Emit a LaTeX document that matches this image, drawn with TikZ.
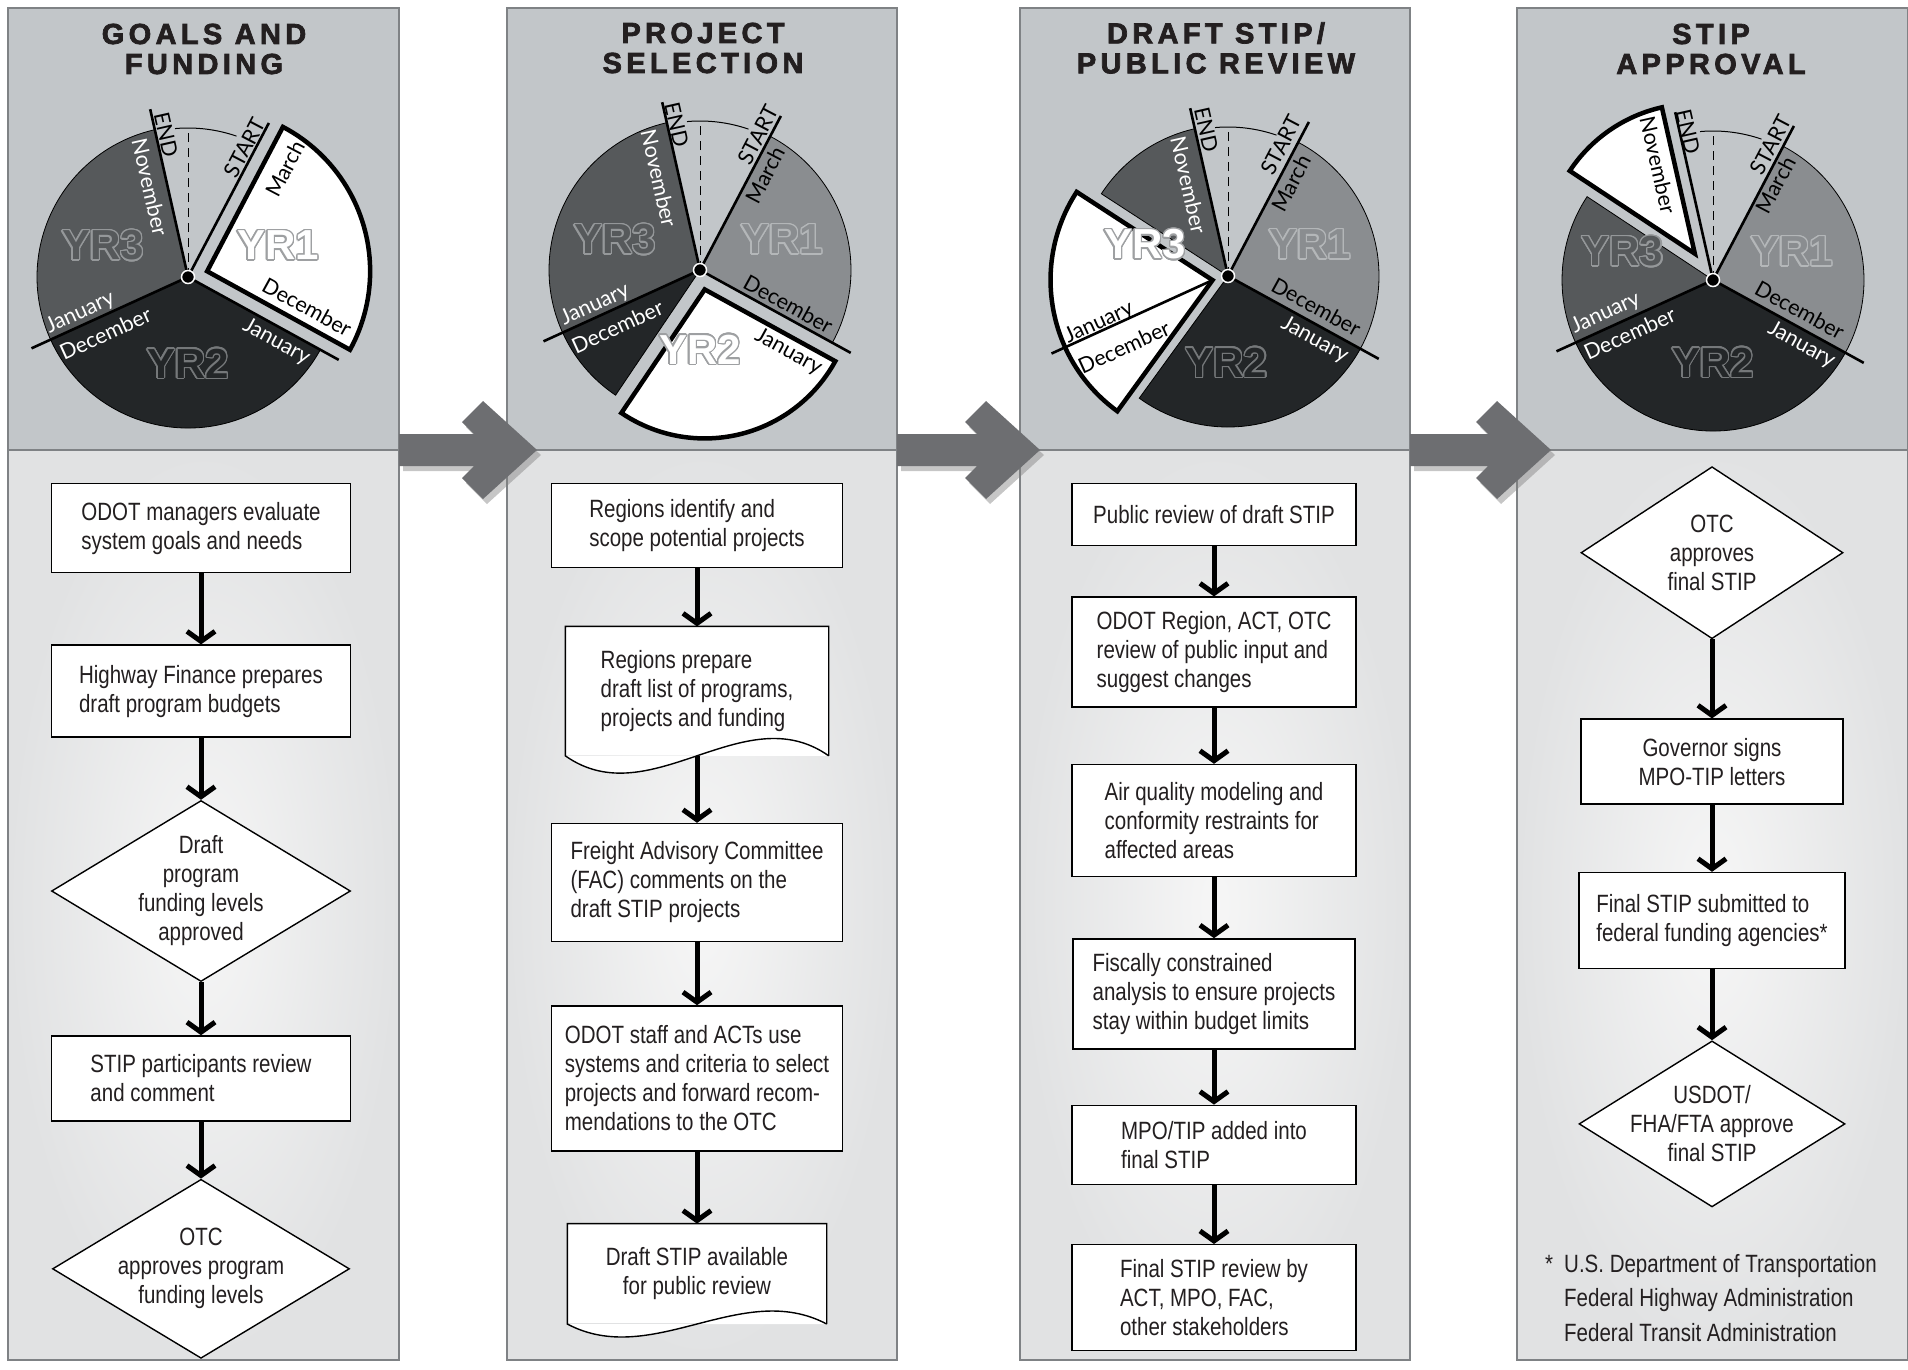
\documentclass[tikz,border=0pt]{standalone}
\usepackage{fontspec}
\usepackage{contour}
\usetikzlibrary{positioning,shapes.geometric,arrows.meta,shadows}
\setmainfont{Liberation Sans}
\newfontfamily\boxfont{Liberation Sans}[FakeStretch=0.82]
\newfontfamily\headfont{Liberation Sans}[LetterSpace=15, BoldFeatures={FakeBold=2.5}]
\newfontfamily\monthfont{Lato}
\newfontfamily\yrfont{Liberation Sans}
\definecolor{hdrgray}{HTML}{C2C6C9}
\definecolor{framegray}{HTML}{7F8285}
\definecolor{lowgray}{HTML}{E1E2E3}
\definecolor{lowlight}{HTML}{F6F6F6}
\definecolor{yrone}{HTML}{8A8D90}
\definecolor{yrtwo}{HTML}{232628}
\definecolor{yrthree}{HTML}{56595B}
\definecolor{chevgray}{HTML}{6D6E71}
\definecolor{inkblack}{HTML}{231F20}
\definecolor{outone}{HTML}{B4B7B9}
\definecolor{outtwo}{HTML}{75787A}
\definecolor{outthree}{HTML}{95989A}
\definecolor{outwhite}{HTML}{9EA0A2}
\contourlength{1.3pt}
\contournumber{24}

\begin{document}
\begin{tikzpicture}
[
x=1pt, y=1pt,
box-a/.style={rectangle, draw, line width=1.4, fill=white, align=left, inner sep=6pt, text=inkblack, font=\boxfont\fontsize{25}{29}\selectfont},
doc-a/.style={box-a, draw=none},
dia-a/.style={diamond, draw, line width=1.4, fill=white, aspect=1.65, inner sep=-10pt, align=center, text=inkblack, font=\boxfont\fontsize{25}{29}\selectfont},
arrow-a/.style={line width=5, -{Straight Barb[length=10pt, width=28pt]}},
title-a/.style={align=center, text=inkblack, font=\headfont\bfseries\fontsize{29}{30}\selectfont},
month-a/.style={inner sep=0pt, font=\monthfont\fontsize{21.5}{21.5}\selectfont},
yr-a/.style={inner sep=0pt, font=\yrfont\bfseries\fontsize{42}{42}\selectfont},
frame-a/.style={draw=framegray, line width=2},
cut-a/.style={line width=2.6},
sector-a/.style={draw=black, line width=0.8},
pulled-a/.style={draw=black, fill=white, line width=4.5, line join=miter},
chevron-a/.style={fill=chevgray, drop shadow={shadow xshift=4pt, shadow yshift=-5pt, opacity=0.45}}
]
\useasboundingbox (0,0) rectangle (1908,-1369);

% panels
\fill  [hdrgray] (8,-8) rectangle (399,-450);
\shade [inner color=lowlight, outer color=lowgray] (8,-450) rectangle (399,-1360);
\draw  [frame-a] (8,-8) rectangle (399,-1360) (8,-450) -- (399,-450);
\fill  [hdrgray] (507,-8) rectangle (897,-450);
\shade [inner color=lowlight, outer color=lowgray] (507,-450) rectangle (897,-1360);
\draw  [frame-a] (507,-8) rectangle (897,-1360) (507,-450) -- (897,-450);
\fill  [hdrgray] (1020,-8) rectangle (1410,-450);
\shade [inner color=lowlight, outer color=lowgray] (1020,-450) rectangle (1410,-1360);
\draw  [frame-a] (1020,-8) rectangle (1410,-1360) (1020,-450) -- (1410,-450);
\fill  [hdrgray] (1517,-8) rectangle (1908,-450);
\shade [inner color=lowlight, outer color=lowgray] (1517,-450) rectangle (1908,-1360);
\draw  [frame-a] (1517,-8) rectangle (1908,-1360) (1517,-450) -- (1908,-450);

% big arrows between the stages
\fill [chevron-a] (399,-434) -- (474,-434) -- (462,-422) -- (483,-401) -- (537,-450) -- (483,-499) -- (462,-478) -- (474,-466) -- (399,-466) -- cycle;
\fill [chevron-a] (897,-434) -- (977,-434) -- (965,-422) -- (986,-401) -- (1040,-450) -- (986,-499) -- (965,-478) -- (977,-466) -- (897,-466) -- cycle;
\fill [chevron-a] (1410,-434) -- (1488,-434) -- (1476,-422) -- (1497,-401) -- (1551,-450) -- (1497,-499) -- (1476,-478) -- (1488,-466) -- (1410,-466) -- cycle;

% titles
\node (title-1) [title-a] at (204,-49)  {GOALS AND\\FUNDING};
\node (title-2) [title-a] at (703,-48)  {PROJECT\\SELECTION};
\node (title-3) [title-a] at (1216,-48) {DRAFT STIP/\\PUBLIC REVIEW};
\node (title-4) [title-a] at (1711,-49) {STIP\\APPROVAL};

% wheel 1
\begin{scope}[shift={(188,-277)}]
\filldraw [sector-a, fill=yrthree] (0,0) -- (102.7:151) arc [start angle=102.7, end angle=204.5, radius=151] -- cycle;
\filldraw [sector-a, fill=yrtwo]   (0,0) -- (204.5:151) arc [start angle=204.5, end angle=331.2, radius=151] -- cycle;
\begin{scope}[shift={(16.75:20)}]
\filldraw [pulled-a] (0,0) -- (-28.8:163) arc [start angle=-28.8, end angle=62.3, radius=163] -- cycle;
\end{scope}
\node (p1-yr1) [yr-a, text=white]   at (90,31)  {\contour{outwhite}{YR1}};
\node (p1-yr2) [yr-a, text=yrtwo]   at (0,-87)  {\contour{outtwo}{YR2}};
\node (p1-yr3) [yr-a, text=yrthree] at (-85,31) {\contour{outthree}{YR3}};
\draw [cut-a] (0,0) -- (102.7:172) (0,0) -- (62.3:174) (0,0) -- (-28.8:172) (0,0) -- (204.5:172);
\draw [line width=1, dash pattern=on 9pt off 6pt] (0,0) -- (90:149);
\draw [line width=1] (95:149) arc [start angle=95, end angle=71, radius=149];
\node (p1-end)   [month-a, rotate=-77.3]              at (-22,142)      {END};
\node (p1-start) [month-a, rotate=62.3]               at (56.7,129.3)   {START};
\node (p1-nov)   [month-a, rotate=-77.3, text=white]  at (-38,90)       {November};
\node (p1-mar)   [month-a, rotate=62.3]               at (97.3,108.3)   {March};
\node (p1-deca)  [month-a, rotate=-28.8]              at (119,-30)      {December};
\node (p1-jana)  [month-a, rotate=-28.8, text=white]  at (88.3,-64.7)   {January};
\node (p1-janb)  [month-a, rotate=24.5, text=white]   at (-107.7,-35.7) {January};
\node (p1-decb)  [month-a, rotate=24.5, text=white]   at (-82.7,-56.3)  {December};
\filldraw [fill=black, draw=white, line width=1.5] (0,0) circle (6.5);
\end{scope}

% wheel 2
\begin{scope}[shift={(700,-270)}]
\filldraw [sector-a, fill=yrthree] (0,0) -- (102.7:151) arc [start angle=102.7, end angle=204.5, radius=151] -- cycle;
\filldraw [sector-a, fill=yrone]   (0,0) -- (-28.8:151) arc [start angle=-28.8, end angle=62.3, radius=151] -- cycle;
\filldraw [sector-a, fill=yrtwo]   (0,0) -- (204.5:151) arc [start angle=204.5, end angle=236, radius=151] -- cycle;
\begin{scope}[shift={(283.6:20)}]
\filldraw [pulled-a] (0,0) -- (236:149) arc [start angle=236, end angle=331.2, radius=149] -- cycle;
\end{scope}
\node (p2-yr1) [yr-a, text=yrone]   at (82,30)  {\contour{outone}{YR1}};
\node (p2-yr2) [yr-a, text=white]   at (0,-80)  {\contour{outwhite}{YR2}};
\node (p2-yr3) [yr-a, text=yrthree] at (-85,30) {\contour{outthree}{YR3}};
\draw [cut-a] (0,0) -- (102.7:172) (0,0) -- (62.3:174) (0,0) -- (-28.8:172) (0,0) -- (204.5:172);
\draw [line width=1, dash pattern=on 9pt off 6pt] (0,0) -- (90:149);
\draw [line width=1] (95:149) arc [start angle=95, end angle=71, radius=149];
\node (p2-end)   [month-a, rotate=-77.3]              at (-23.3,145)    {END};
\node (p2-start) [month-a, rotate=62.3]               at (58.3,135)     {START};
\node (p2-nov)   [month-a, rotate=-77.3, text=white]  at (-41,91.5)     {November};
\node (p2-mar)   [month-a, rotate=62.3]               at (65,95)        {March};
\node (p2-deca)  [month-a, rotate=-28.8]              at (88.3,-34)     {December};
\node (p2-jana)  [month-a, rotate=-28.8]              at (88.3,-81.7)   {January};
\node (p2-janb)  [month-a, rotate=24.5, text=white]   at (-105,-35)     {January};
\node (p2-decb)  [month-a, rotate=24.5, text=white]   at (-82.7,-56.7)  {December};
\filldraw [fill=black, draw=white, line width=1.5] (0,0) circle (6.5);
\end{scope}

% wheel 3
\begin{scope}[shift={(1228,-276)}]
\filldraw [sector-a, fill=yrthree] (0,0) -- (102.7:151) arc [start angle=102.7, end angle=147, radius=151] -- cycle;
\filldraw [sector-a, fill=yrone]   (0,0) -- (-28.8:151) arc [start angle=-28.8, end angle=62.3, radius=151] -- cycle;
\filldraw [sector-a, fill=yrtwo]   (0,0) -- (234:151) arc [start angle=234, end angle=331.2, radius=151] -- cycle;
\begin{scope}[shift={(195:16)}]
\filldraw [pulled-a] (0,0) -- (147:162) arc [start angle=147, end angle=234, radius=162] -- cycle;
\draw [cut-a] (0,0) -- (204.5:177);
\end{scope}
\node (p3-yr1) [yr-a, text=yrone]   at (82,31)   {\contour{outone}{YR1}};
\node (p3-yr2) [yr-a, text=yrtwo]   at (-1.7,-87) {\contour{outtwo}{YR2}};
\node (p3-yr3) [yr-a, text=white]   at (-83,31)  {\contour{outwhite}{YR3}};
\draw [cut-a] (0,0) -- (102.7:172) (0,0) -- (62.3:174) (0,0) -- (-28.8:172);
\draw [line width=1, dash pattern=on 9pt off 6pt] (0,0) -- (90:149);
\draw [line width=1] (95:149) arc [start angle=95, end angle=71, radius=149];
\node (p3-end)   [month-a, rotate=-77.3]              at (-21.7,146)    {END};
\node (p3-start) [month-a, rotate=62.3]               at (53.3,131)     {START};
\node (p3-nov)   [month-a, rotate=-77.3, text=white]  at (-39.3,91)     {November};
\node (p3-mar)   [month-a, rotate=62.3]               at (63.3,92.7)    {March};
\node (p3-deca)  [month-a, rotate=-28.8]              at (88.3,-30.7)   {December};
\node (p3-jana)  [month-a, rotate=-28.8, text=white]  at (86.7,-64)     {January};
\node (p3-janb)  [month-a, rotate=24.5]               at (-129,-47)     {January};
\node (p3-decb)  [month-a, rotate=24.5]               at (-104,-71)     {December};
\filldraw [fill=black, draw=white, line width=1.5] (0,0) circle (6.5);
\end{scope}

% wheel 4
\begin{scope}[shift={(1713,-280)}]
\filldraw [sector-a, fill=yrthree] (0,0) -- (146.5:151) arc [start angle=146.5, end angle=204.5, radius=151] -- cycle;
\filldraw [sector-a, fill=yrone]   (0,0) -- (-28.8:151) arc [start angle=-28.8, end angle=62.3, radius=151] -- cycle;
\filldraw [sector-a, fill=yrtwo]   (0,0) -- (204.5:151) arc [start angle=204.5, end angle=331.2, radius=151] -- cycle;
\begin{scope}[shift={(124.6:32)}]
\filldraw [pulled-a] (0,0) -- (102.7:150) arc [start angle=102.7, end angle=146.5, radius=150] -- cycle;
\end{scope}
\node (p4-yr1) [yr-a, text=yrone]   at (79,28)    {\contour{outone}{YR1}};
\node (p4-yr2) [yr-a, text=yrtwo]   at (0,-83)    {\contour{outtwo}{YR2}};
\node (p4-yr3) [yr-a, text=yrthree] at (-90.7,28) {\contour{outthree}{YR3}};
\draw [cut-a] (0,0) -- (102.7:172) (0,0) -- (62.3:174) (0,0) -- (-28.8:172) (0,0) -- (204.5:172);
\draw [line width=1, dash pattern=on 9pt off 6pt] (0,0) -- (90:149);
\draw [line width=1] (95:149) arc [start angle=95, end angle=71, radius=149];
\node (p4-end)   [month-a, rotate=-77.3]              at (-25,148)      {END};
\node (p4-start) [month-a, rotate=62.3]               at (57.7,135)     {START};
\node (p4-nov)   [month-a, rotate=-77.3]              at (-55,115)      {November};
\node (p4-mar)   [month-a, rotate=62.3]               at (62.7,95)      {March};
\node (p4-deca)  [month-a, rotate=-28.8]              at (86.7,-30)     {December};
\node (p4-jana)  [month-a, rotate=-28.8, text=white]  at (88.3,-65)     {January};
\node (p4-janb)  [month-a, rotate=24.5, text=white]   at (-107.3,-33.3) {January};
\node (p4-decb)  [month-a, rotate=24.5, text=white]   at (-83.3,-53.3)  {December};
\filldraw [fill=black, draw=white, line width=1.5] (0,0) circle (6.5);
\end{scope}

% goals and funding
\node (goal-1) [box-a, minimum width=299, minimum height=89, anchor=north] at (201,-483) {ODOT managers evaluate\\system goals and needs};
\node (goal-2) [box-a, minimum width=299, minimum height=92, below=71pt of goal-1]  {Highway Finance prepares\\draft program budgets};
\node (goal-3) [dia-a, minimum width=299, minimum height=181, below=62pt of goal-2] {Draft\\program\\funding levels\\approved};
\node (goal-4) [box-a, minimum width=299, minimum height=85, below=53pt of goal-3]  {STIP participants review\\and comment};
\node (goal-5) [dia-a, minimum width=297, minimum height=179, below=57pt of goal-4] {OTC\\approves program\\funding levels};

% project selection
\node (sel-1) [box-a, minimum width=291, minimum height=84, anchor=north] at (697,-483) {Regions identify and\\scope potential projects};
\node (sel-2) [doc-a, minimum width=262, minimum height=128, below=58pt of sel-1] {Regions prepare\\draft list of programs,\\projects and funding};
\node (sel-3) [box-a, minimum width=291, minimum height=118, below=67pt of sel-2] {Freight Advisory Committee\\(FAC) comments on the\\draft STIP projects};
\node (sel-4) [box-a, minimum width=291, minimum height=145, below=63pt of sel-3] {ODOT staff and ACTs use\\systems and criteria to select\\projects and forward recom-\\mendations to the OTC};
\node (sel-5) [doc-a, align=center, minimum width=258, minimum height=99, below=72pt of sel-4] {Draft STIP available\\for public review};
\fill [white] (sel-2.south west) .. controls +(85,-60) and +(-85,60) .. (sel-2.south east) -- cycle;
\draw [line width=1.4] (sel-2.south east) -- (sel-2.north east) -- (sel-2.north west) -- (sel-2.south west) .. controls +(85,-60) and +(-85,60) .. (sel-2.south east);
\fill [white] (sel-5.south west) .. controls +(85,-45) and +(-85,45) .. (sel-5.south east) -- cycle;
\draw [line width=1.4] (sel-5.south east) -- (sel-5.north east) -- (sel-5.north west) -- (sel-5.south west) .. controls +(85,-45) and +(-85,45) .. (sel-5.south east);

% draft stip / public review
\node (rev-1) [box-a, minimum width=284, minimum height=62, anchor=north] at (1214,-483) {Public review of draft STIP};
\node (rev-2) [box-a, minimum width=284, minimum height=110, below=50pt of rev-1] {ODOT Region, ACT, OTC\\review of public input and\\suggest changes};
\node (rev-3) [box-a, minimum width=284, minimum height=112, below=56pt of rev-2] {Air quality modeling and\\conformity restraints for\\affected areas};
\node (rev-4) [box-a, minimum width=282, minimum height=110, below=61pt of rev-3] {Fiscally constrained\\analysis to ensure projects\\stay within budget limits};
\node (rev-5) [box-a, minimum width=284, minimum height=79, below=55pt of rev-4]  {MPO/TIP added into\\final STIP};
\node (rev-6) [box-a, minimum width=284, minimum height=106, below=59pt of rev-5] {Final STIP review by\\ACT, MPO, FAC,\\other stakeholders};

% stip approval
\node (appr-1) [dia-a, minimum width=262, minimum height=172, anchor=north] at (1712,-466) {OTC\\approves\\final STIP};
\node (appr-2) [box-a, align=center, minimum width=262, minimum height=85, below=79pt of appr-1] {Governor signs\\MPO-TIP letters};
\node (appr-3) [box-a, minimum width=266, minimum height=96, below=67pt of appr-2]  {Final STIP submitted to\\federal funding agencies*};
\node (appr-4) [dia-a, minimum width=266, minimum height=166, below=71pt of appr-3] {USDOT/\\FHA/FTA approve\\final STIP};
\node (fnote)  [anchor=north west, inner sep=0pt, align=left, text=inkblack, font=\boxfont\fontsize{25}{34.5}\selectfont] at (1545,-1254)
  {\makebox[19pt][l]{*}U.S. Department of Transportation\\\hspace*{19pt}Federal Highway Administration\\\hspace*{19pt}Federal Transit Administration};

\draw [arrow-a] (goal-1) -- (goal-2);
\draw [arrow-a] (goal-2) -- (goal-3);
\draw [arrow-a] (goal-3) -- (goal-4);
\draw [arrow-a] (goal-4) -- (goal-5);
\draw [arrow-a] (sel-1) -- (sel-2);
\draw [arrow-a] (sel-2) -- (sel-3);
\draw [arrow-a] (sel-3) -- (sel-4);
\draw [arrow-a] (sel-4) -- (sel-5);
\draw [arrow-a] (rev-1) -- (rev-2);
\draw [arrow-a] (rev-2) -- (rev-3);
\draw [arrow-a] (rev-3) -- (rev-4);
\draw [arrow-a] (rev-4) -- (rev-5);
\draw [arrow-a] (rev-5) -- (rev-6);
\draw [arrow-a] (appr-1) -- (appr-2);
\draw [arrow-a] (appr-2) -- (appr-3);
\draw [arrow-a] (appr-3) -- (appr-4);
\end{tikzpicture}
\end{document}
